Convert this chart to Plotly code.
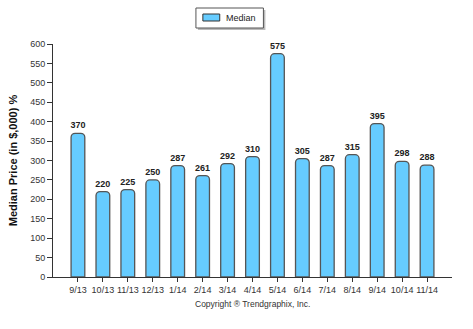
import plotly.graph_objects as go

months = ["9/13", "10/13", "11/13", "12/13", "1/14", "2/14", "3/14", "4/14",
          "5/14", "6/14", "7/14", "8/14", "9/14", "10/14", "11/14"]
median = [370, 220, 225, 250, 287, 261, 292, 310, 575, 305, 287, 315, 395, 298, 288]
y_ticks = list(range(0, 601, 50))

FONT = "Liberation Sans"
# plot area in pixels: x 50..452, y 44..277
def px(x):
    return (x - 50) / 402.0
def py(y):
    return (277 - y) / 233.0

fig = go.Figure()
fig.add_trace(go.Bar(
    x=months, y=median, name="Median",
    width=0.55,
    marker=dict(color="#66CCFF", line=dict(color="#555555", width=1.3), cornerradius=4),
    text=median, texttemplate="<b>%{text}</b>", textposition="outside",
    constraintext="none",
    textfont=dict(family=FONT, size=9, color="#222222"),
    cliponaxis=False,
    showlegend=False,
))

shapes = [
    # legend shadow
    dict(type="rect", xref="paper", yref="paper", x0=px(196), x1=px(264), y0=py(30), y1=py(10),
         fillcolor="#BBBBBB", line=dict(width=0), layer="below"),
    # legend box
    dict(type="rect", xref="paper", yref="paper", x0=px(194), x1=px(262), y0=py(28), y1=py(8),
         fillcolor="white", line=dict(color="#555555", width=1)),
    # legend symbol
    dict(type="rect", xref="paper", yref="paper", x0=px(201), x1=px(218), y0=py(21), y1=py(14),
         fillcolor="#66CCFF", line=dict(color="#333333", width=1)),
]

fig.update_layout(
    width=473, height=329,
    margin=dict(l=50, r=21, t=44, b=52),
    paper_bgcolor="white", plot_bgcolor="white",
    font=dict(family=FONT, size=9, color="#333333"),
    showlegend=False,
    bargap=0.45,
    xaxis=dict(range=[-1, 15], showline=True, linecolor="#333333", linewidth=1,
               ticks="outside", ticklen=4, tickcolor="#333333", showgrid=False,
               tickangle=0, fixedrange=True,
               tickfont=dict(family=FONT, size=9, color="#333333")),
    yaxis=dict(range=[0, 600], tickvals=y_ticks, showline=True, linecolor="#333333",
               linewidth=1, ticks="outside", ticklen=5, tickcolor="#333333",
               showgrid=False, zeroline=False,
               title=dict(text="<b>Median Price (in $,000) %</b>", standoff=10,
                          font=dict(family=FONT, size=11, color="#111111")),
               tickfont=dict(family=FONT, size=9, color="#333333")),
    shapes=shapes,
    annotations=[
        dict(text="Median", xref="paper", yref="paper", x=px(222), y=py(18),
             xanchor="left", yanchor="middle", showarrow=False,
             font=dict(family=FONT, size=9, color="#222222")),
        dict(text="Copyright ® Trendgraphix, Inc.", xref="paper", yref="paper",
             x=0.5, y=py(304), xanchor="center", yanchor="middle", showarrow=False,
             font=dict(family=FONT, size=8.5, color="#333333")),
    ],
)
fig.write_html("out.html")
